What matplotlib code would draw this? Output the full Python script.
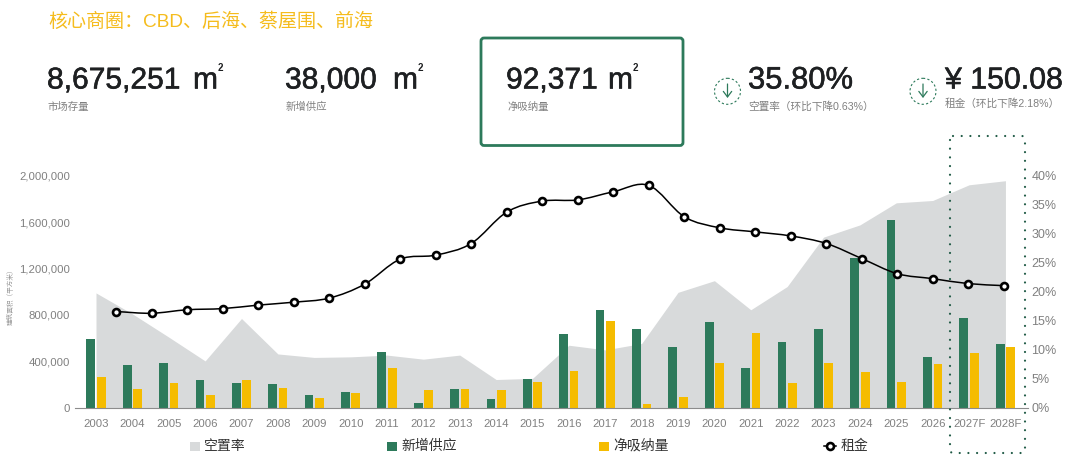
import numpy as np
import matplotlib
matplotlib.use('Agg')
import matplotlib.pyplot as plt
from matplotlib.patches import FancyBboxPatch, Circle, PathPatch, Rectangle
from matplotlib.path import Path
import matplotlib.patheffects as pe

plt.rcParams['font.family'] = ['Liberation Sans', 'Noto Sans CJK SC', 'DejaVu Sans']

# 数据
years = ['2003', '2004', '2005', '2006', '2007', '2008', '2009', '2010', '2011', '2012', '2013', '2014', '2015',
         '2016', '2017', '2018', '2019', '2020', '2021', '2022', '2023', '2024', '2025', '2026', '2027F', '2028F']
vacancy = [19.8, 16.2, 12.2, 8.1, 15.4, 9.3, 8.7, 8.8, 9.1, 8.4, 9.1, 4.9, 5.1,
           10.8, 10.0, 11.1, 19.9, 21.9, 16.9, 20.9, 29.4, 31.5, 35.3, 35.7, 38.4, 39.1]
supply = [593000, 373000, 390000, 241000, 212000, 204000, 112000, 140000, 485000, 43000, 163000, 77000, 252000,
          634000, 843000, 682000, 525000, 743000, 344000, 571000, 682000, 1293000, 1614000, 442000, 771000, 551000]
absorption = [270000, 163000, 215000, 112000, 241000, 172000, 89000, 129000, 344000, 158000, 163000, 158000, 224000,
              318000, 751000, 37000, 92000, 390000, 642000, 215000, 390000, 310000, 226000, 376000, 476000, 528000]
# 租金没有坐标轴，这里按右轴刻度读数
rent = [16.6, 16.3, 16.9, 17.1, 17.7, 18.2, 18.9, 21.3, 25.6, 26.3, 28.3, 33.7, 35.6,
        35.8, 37.2, 38.3, 32.9, 31.0, 30.3, 29.6, 28.3, 25.7, 23.1, 22.25, 21.4, 21.05]
left_ticks = [0, 400000, 800000, 1200000, 1600000, 2000000]
right_ticks = [0, 5, 10, 15, 20, 25, 30, 35, 40]

GREEN = '#2D7A5B'
YELLOW = '#F5BC00'
AREA = '#D8DADB'
GREY = '#808080'
DARK = '#1E2022'
W, H = 1080, 459

fig = plt.figure(figsize=(W / 100, H / 100), dpi=100)
rect = [75 / W, (H - 408) / H, 953 / W, 232.5 / H]

# 柱子
ax = fig.add_axes(rect)
x = np.arange(len(years))
ax.bar(x - 0.143, supply, width=0.24, color=GREEN)
ax.bar(x + 0.143, absorption, width=0.24, color=YELLOW)
ax.set_xlim(-0.577, 25.62)
ax.set_ylim(0, 2000000)
ax.set_xticks(x, years)
ax.set_yticks(left_ticks, [f'{v:,}' for v in left_ticks])
ax.tick_params(length=0, labelsize=8.2, labelcolor=GREY)
ax.tick_params(axis='x', pad=8)
ax.tick_params(axis='y', pad=3.5)
for s in ['top', 'left', 'right']:
    ax.spines[s].set_visible(False)
ax.spines['bottom'].set_color('#8C8C8C')
ax.patch.set_visible(False)
ax.set_zorder(2)

# 空置率面积，放在柱子后面
ax2 = ax.twinx()
ax2.fill_between(x, vacancy, color=AREA, lw=0)
ax2.set_ylim(0, 40)
ax2.set_yticks(right_ticks, [f'{v}%' for v in right_ticks])
ax2.tick_params(length=0, labelsize=9, labelcolor=GREY, pad=2.5)
for s in ['top', 'left', 'right', 'bottom']:
    ax2.spines[s].set_visible(False)
ax2.set_zorder(1)

# 租金线有26个点，间距和柱子的类目不同
ax3 = fig.add_axes(rect)
ax3.set_xlim(-1.154, 25.676)
ax3.set_ylim(0, 40)
ax3.axis('off')
ax3.set_zorder(3)
r = np.array(rent)
xr = np.arange(len(r))
slope = np.gradient(r)
verts = [(xr[0], r[0])]
codes = [Path.MOVETO]
for i in range(len(r) - 1):
    verts += [(xr[i] + 1 / 3, r[i] + slope[i] / 3), (xr[i + 1] - 1 / 3, r[i + 1] - slope[i + 1] / 3), (xr[i + 1], r[i + 1])]
    codes += [Path.CURVE4] * 3
ax3.add_patch(PathPatch(Path(verts, codes), fc='none', ec='black', lw=1.1))
ax3.plot(xr, r, ls='none', marker='o', ms=5, mfc='white', mec='black', mew=1.9)

# 顶部的文字和图形，用像素坐标
top = fig.add_axes([0, 0, 1, 1])
top.set_xlim(0, W)
top.set_ylim(H, 0)
top.axis('off')
top.set_zorder(4)

top.text(48, 27, '核心商圈：CBD、后海、蔡屋围、前海', fontsize=13.7, color='#F5BC1D', va='baseline')

heavy = [pe.withStroke(linewidth=0.4, foreground=DARK)]
BASE = 88.5
stats = [(47, '8,675,251', 193, '市场存量'), (285, '38,000', 393, '新增供应'), (506, '92,371', 608, '净吸纳量')]
for xs, num, xm, label in stats:
    top.text(xs, BASE, num, fontsize=21.6, color=DARK, va='baseline', path_effects=heavy)
    top.text(xm, BASE, 'm', fontsize=21.6, color=DARK, va='baseline', path_effects=heavy)
    top.text(xm + 24.5, 68, '2', fontsize=7, color=DARK, va='center', fontweight='bold')
    top.text(xs + 1, 107, label, fontsize=7.5, color=GREY, va='center')

top.add_patch(FancyBboxPatch((481, 38), 202, 107.5, boxstyle='round,pad=0,rounding_size=3', fc='none', ec=GREEN, lw=2))

top.text(748, BASE, '35.80%', fontsize=22.3, color=DARK, va='baseline', path_effects=heavy)
top.text(748, 106.7, '空置率（环比下降0.63%）', fontsize=7.7, color=GREY, va='center')
top.text(945, BASE, '¥ 150.08', fontsize=21.8, color=DARK, va='baseline', path_effects=heavy)
top.text(945, 103.3, '租金（环比下降2.18%）', fontsize=7.7, color=GREY, va='center')

for cx in [727.5, 923]:
    top.add_patch(Circle((cx, 91.3), 13, fc='none', ec=GREEN, lw=0.8, ls=(0, (2, 2))))
    top.annotate('', xy=(cx, 98), xytext=(cx, 84),
                 arrowprops=dict(arrowstyle='->,head_width=0.3,head_length=0.4', color=GREEN, lw=0.9, shrinkA=0, shrinkB=0))

# 预测区间的点线框
box = FancyBboxPatch((950, 136), 75, 317, boxstyle='round,pad=0,rounding_size=3', fc='none', ec='#1F5A45', lw=1.6,
                     ls=(0, (0.01, 3.9)), capstyle='round')
top.add_patch(box)

top.text(11, 295, '建筑面积（平方米）', fontsize=4.8, color='#999999', rotation=90, va='center', ha='center')

# 图例，四项间距不等，所以逐项放
LEG_Y = 446
legend_items = [(190, AREA, '空置率'), (387, GREEN, '新增供应'), (599, YELLOW, '净吸纳量')]
for lx, color, label in legend_items:
    top.add_patch(Rectangle((lx, LEG_Y - 4.5), 9.5, 9.5, fc=color, ec='none'))
    top.text(lx + 14, LEG_Y, label, fontsize=10, color='#333333', va='center')
top.plot([824, 836], [LEG_Y, LEG_Y], color='black', lw=1.1)
top.plot([830], [LEG_Y], marker='o', ms=5, mfc='white', mec='black', mew=1.9)
top.text(841, LEG_Y, '租金', fontsize=10, color='#333333', va='center')
top.set_xlim(0, W)
top.set_ylim(H, 0)

fig.savefig('out.png', dpi=100)
